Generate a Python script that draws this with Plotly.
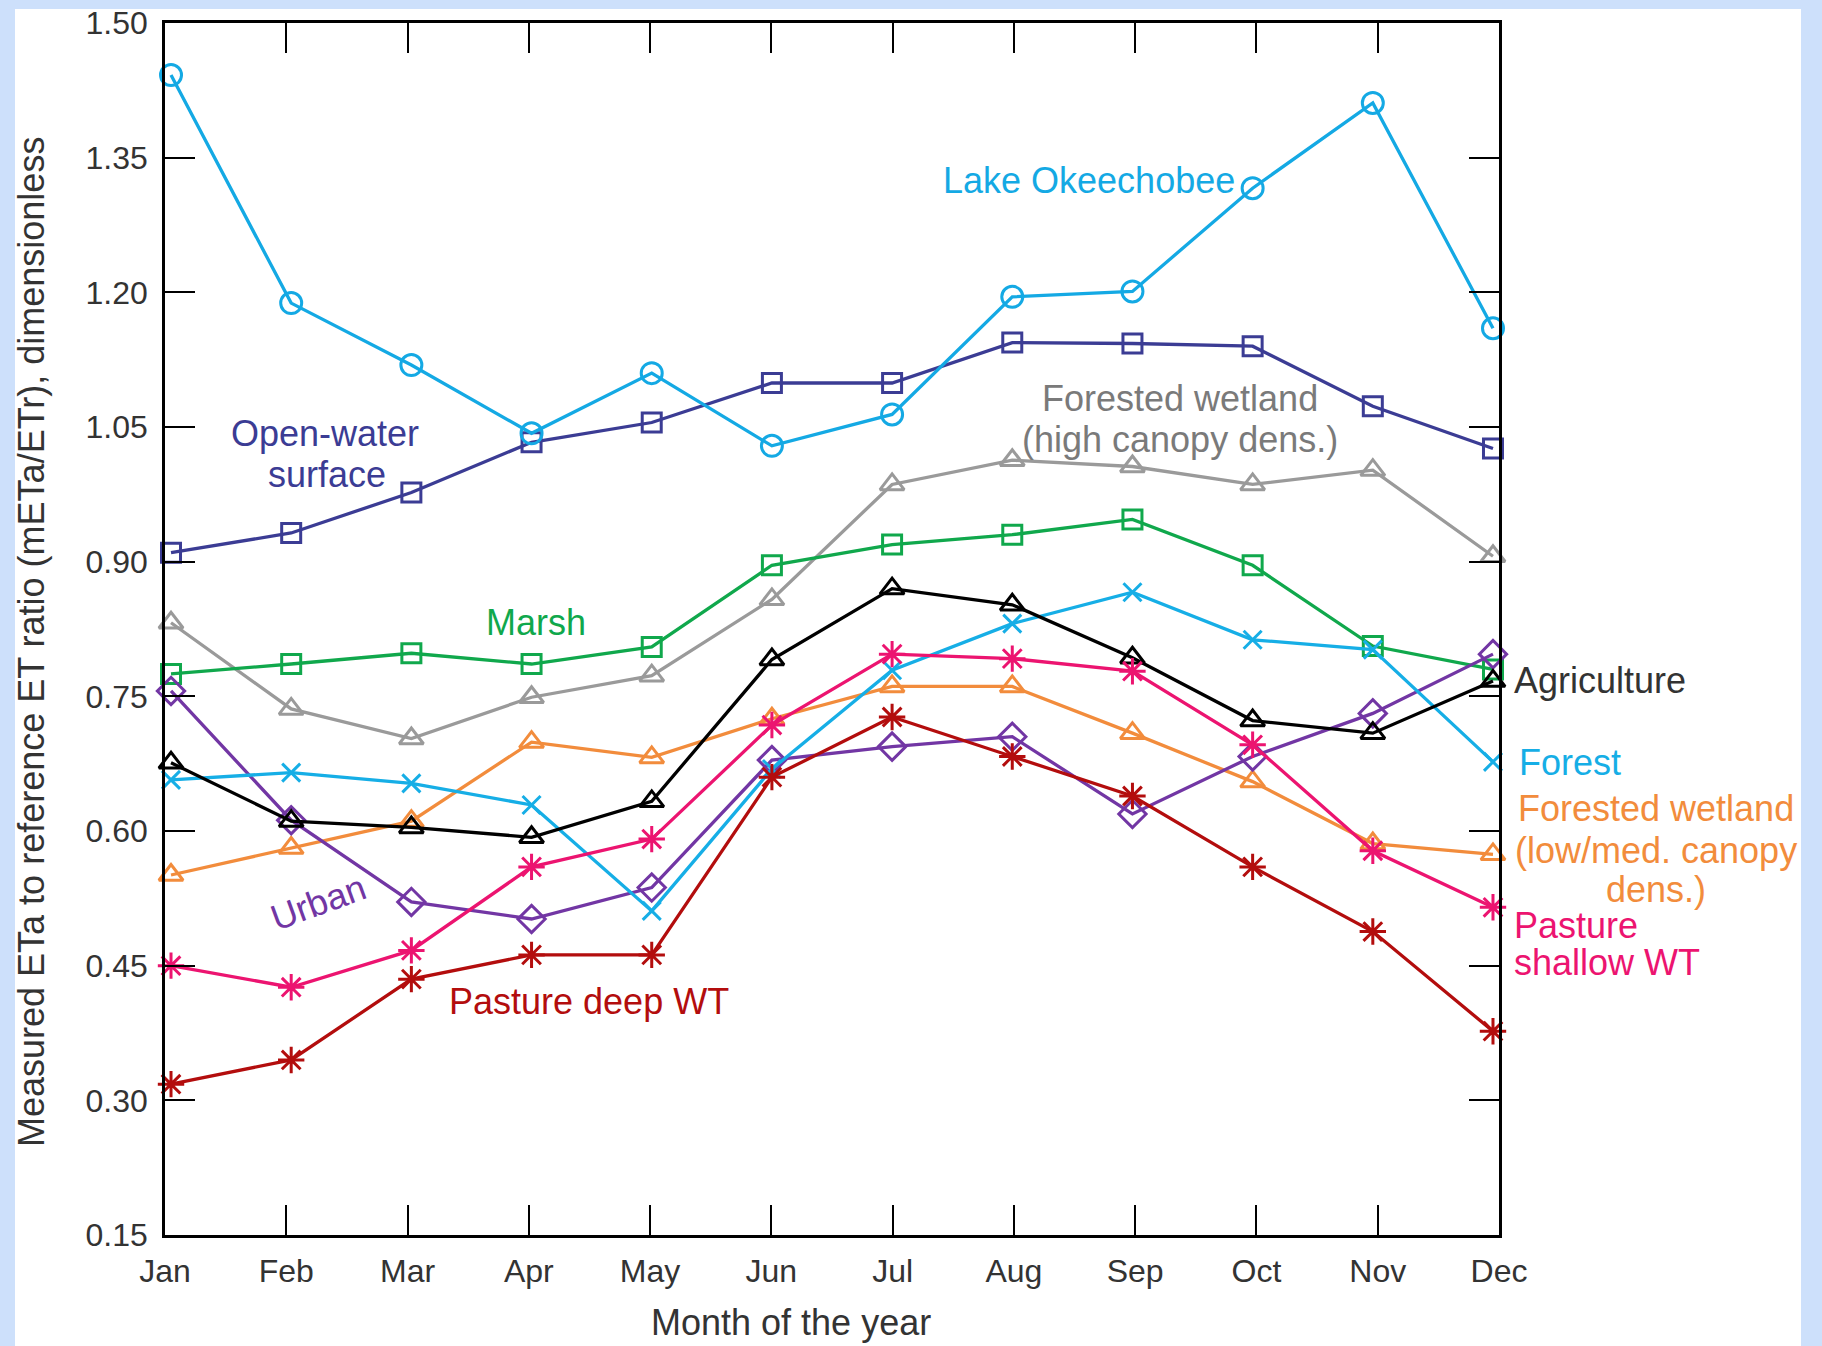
import plotly.graph_objects as go

# Monthly measured ETa / reference ETr ratios by land cover
months = ["Jan", "Feb", "Mar", "Apr", "May", "Jun", "Jul", "Aug", "Sep", "Oct", "Nov", "Dec"]

lake_okeechobee = [1.442, 1.188, 1.119, 1.043, 1.110, 1.029, 1.064, 1.195, 1.201, 1.316, 1.411, 1.160]
open_water = [0.910, 0.932, 0.977, 1.033, 1.055, 1.099, 1.099, 1.144, 1.143, 1.140, 1.073, 1.026]
forested_wetland_high = [0.832, 0.736, 0.703, 0.749, 0.773, 0.858, 0.986, 1.013, 1.006, 0.986, 1.002, 0.906]
marsh = [0.775, 0.786, 0.798, 0.786, 0.805, 0.896, 0.919, 0.930, 0.947, 0.896, 0.806, 0.780]
agriculture = [0.676, 0.611, 0.604, 0.593, 0.633, 0.791, 0.870, 0.852, 0.793, 0.723, 0.709, 0.767]
forest = [0.657, 0.665, 0.653, 0.629, 0.511, 0.669, 0.779, 0.831, 0.866, 0.813, 0.802, 0.677]
forested_wetland_low = [0.551, 0.581, 0.611, 0.699, 0.682, 0.725, 0.761, 0.761, 0.709, 0.655, 0.586, 0.574]
urban = [0.756, 0.612, 0.521, 0.502, 0.537, 0.679, 0.694, 0.705, 0.619, 0.683, 0.731, 0.797]
pasture_shallow = [0.450, 0.426, 0.467, 0.560, 0.591, 0.718, 0.797, 0.792, 0.778, 0.696, 0.578, 0.515]
pasture_deep = [0.318, 0.345, 0.435, 0.462, 0.462, 0.660, 0.727, 0.683, 0.639, 0.560, 0.488, 0.377]

y_ticks = [0.15, 0.30, 0.45, 0.60, 0.75, 0.90, 1.05, 1.20, 1.35, 1.50]

# Page geometry (pixels)
W, H = 1822, 1346
ML, MR, MT, MB = 165, 323, 23, 111
PW = W - ML - MR
PH = H - MT - MB

X_RANGE = [-0.05, 11.05]
Y_RANGE = [0.15, 1.50]

FONT = "Liberation Sans, Arial, sans-serif"
TEXT_GRAY = "#333333"


def paper(px, py):
    """Pixel position on the page -> paper fraction."""
    return (px - ML) / PW, (H - MB - py) / PH


series = [
    # name, values, colour, symbol, marker size
    ("Forested wetland (high canopy dens.)", forested_wetland_high, "#9a9a9a", "triangle-up-open", 21),
    ("Marsh", marsh, "#10a84c", "square-open", 19),
    ("Open-water surface", open_water, "#3b3c94", "square-open", 19),
    ("Forested wetland (low/med. canopy dens.)", forested_wetland_low, "#f28c3c", "triangle-up-open", 21),
    ("Urban", urban, "#7236a4", "diamond-open", 21),
    ("Forest", forest, "#16aee6", "x-thin-open", 18),
    ("Agriculture", agriculture, "#000000", "triangle-up-open", 21),
    ("Pasture shallow WT", pasture_shallow, "#ec1470", "asterisk-open", 22),
    ("Pasture deep WT", pasture_deep, "#b30d0d", "asterisk-open", 22),
    ("Lake Okeechobee", lake_okeechobee, "#14a9e4", "circle-open", 21),
]

fig = go.Figure()
for name, vals, color, symbol, size in series:
    fig.add_trace(go.Scatter(
        x=list(range(len(months))),
        y=vals,
        name=name,
        mode="lines+markers",
        line=dict(color=color, width=3.3),
        marker=dict(symbol=symbol, size=size, color=color, line=dict(color=color, width=3)),
        cliponaxis=False,
        showlegend=False,
    ))

# Month ticks spaced evenly across the frame
tick_pos = [X_RANGE[0] + k * (X_RANGE[1] - X_RANGE[0]) / (len(months) - 1) for k in range(len(months))]

axis_common = dict(
    showline=True, linecolor="black", linewidth=2.5, mirror="ticks",
    ticks="inside", ticklen=30, tickwidth=2, tickcolor="black",
    showgrid=False, zeroline=False, automargin=False,
    tickfont=dict(family=FONT, size=32, color=TEXT_GRAY),
)

fig.update_xaxes(range=X_RANGE, tickmode="array", tickvals=tick_pos, ticktext=months,
                 ticklabelstandoff=6, **axis_common)
fig.update_yaxes(range=Y_RANGE, tickmode="array", tickvals=y_ticks,
                 ticktext=[f"{v:.2f}" for v in y_ticks], ticklabelstandoff=8, **axis_common)

# White page panel on the blue surround
x0, y1 = paper(15, 9)
x1, y0 = paper(1801, H)
fig.add_shape(type="rect", xref="paper", yref="paper", x0=x0, x1=x1, y0=y0, y1=y1,
              fillcolor="white", line=dict(width=0), layer="below")

labels = [
    # text, px, py, colour, anchor, angle
    ("Lake Okeechobee", 1089, 181, "#14a9e4", "center", 0),
    ("Open-water", 325, 434, "#3b3c94", "center", 0),
    ("surface", 327, 475, "#3b3c94", "center", 0),
    ("Forested wetland", 1180, 398, "#7a7a7a", "center", 0),
    ("(high canopy dens.)", 1180, 439, "#7a7a7a", "center", 0),
    ("Marsh", 536, 622, "#10a84c", "center", 0),
    ("Urban", 318, 902, "#7236a4", "center", -20),
    ("Pasture deep WT", 589, 1001, "#b30d0d", "center", 0),
    ("Agriculture", 1512, 680, TEXT_GRAY, "left", 0),
    ("Forest", 1517, 762, "#16aee6", "left", 0),
    ("Forested wetland", 1656, 808, "#f28c3c", "center", 0),
    ("(low/med. canopy", 1656, 850, "#f28c3c", "center", 0),
    ("dens.)", 1656, 889, "#f28c3c", "center", 0),
    ("Pasture", 1512, 925, "#ec1470", "left", 0),
    ("shallow WT", 1512, 963, "#ec1470", "left", 0),
]
for text, px, py, color, anchor, angle in labels:
    ax, ay = paper(px, py)
    fig.add_annotation(text=text, x=ax, y=ay, xref="paper", yref="paper",
                       xanchor=anchor, yanchor="middle", showarrow=False, textangle=angle,
                       font=dict(family=FONT, size=36, color=color))

# Axis titles
tx, ty = paper(32, 642)
fig.add_annotation(text="Measured ETa to reference ET ratio (mETa/ETr), dimensionless",
                   x=tx, y=ty, xref="paper", yref="paper", xanchor="center", yanchor="middle",
                   textangle=-90, showarrow=False,
                   font=dict(family=FONT, size=36, color=TEXT_GRAY))
tx, ty = paper(791, 1322)
fig.add_annotation(text="Month of the year", x=tx, y=ty, xref="paper", yref="paper",
                   xanchor="center", yanchor="middle", showarrow=False,
                   font=dict(family=FONT, size=36, color=TEXT_GRAY))

fig.update_layout(
    width=W, height=H,
    margin=dict(l=ML, r=MR, t=MT, b=MB, pad=0, autoexpand=False),
    paper_bgcolor="#cde0fb",
    plot_bgcolor="white",
    showlegend=False,
)

fig.write_html("out.html")
